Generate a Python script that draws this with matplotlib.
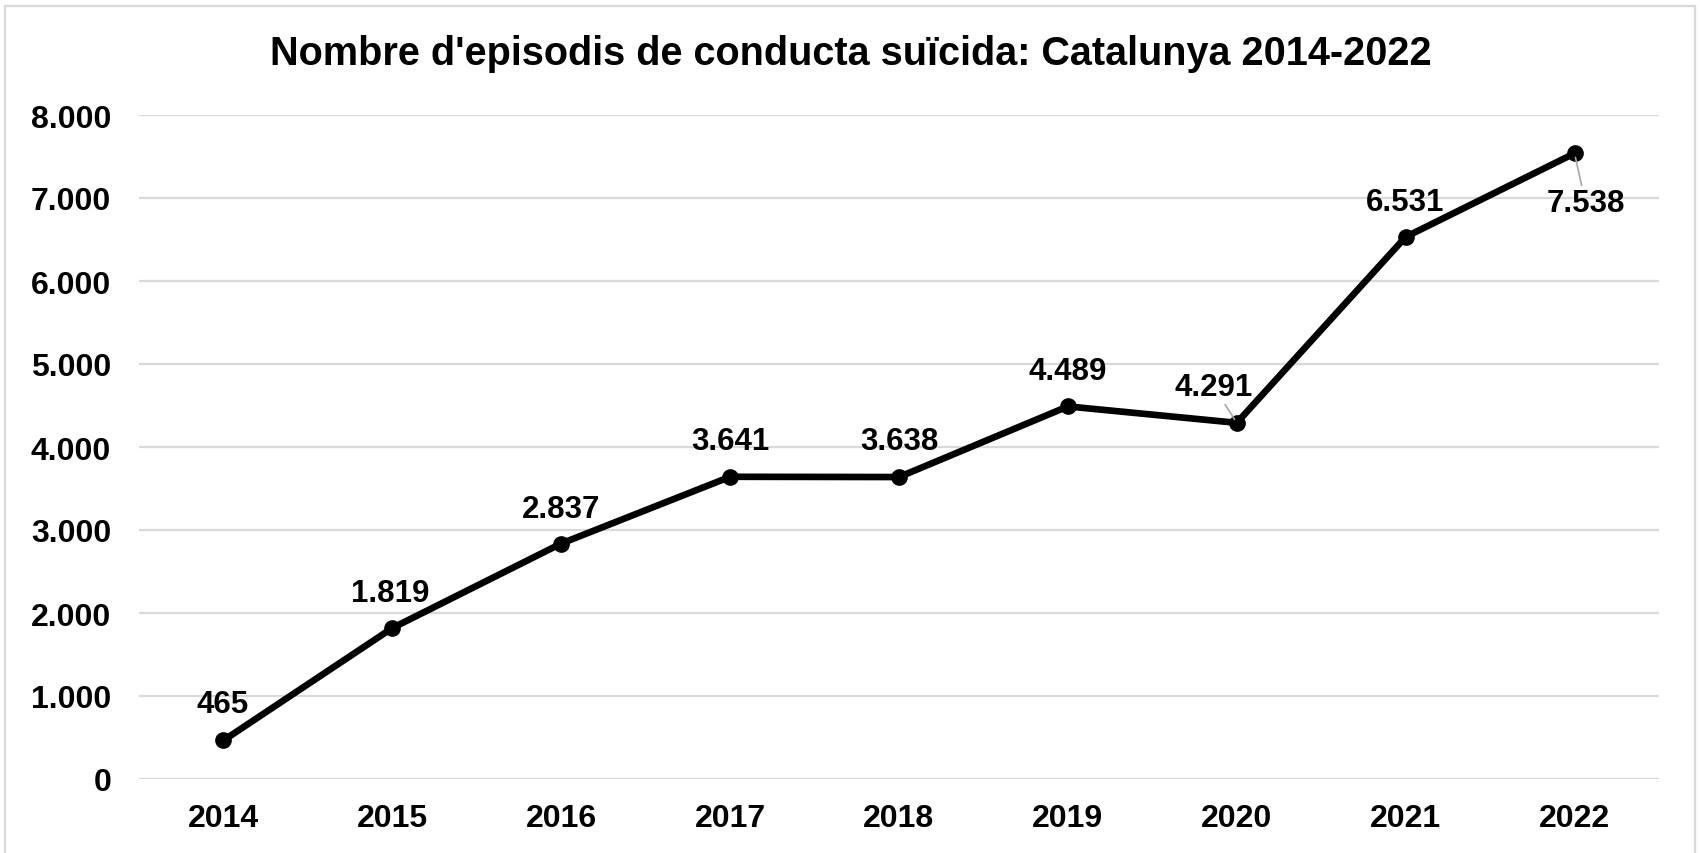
import matplotlib
matplotlib.use("Agg")
import matplotlib.pyplot as plt
from matplotlib.lines import Line2D
from matplotlib.ticker import FuncFormatter

plt.rcParams['font.family'] = ['Liberation Sans', 'DejaVu Sans']

years = ["2014", "2015", "2016", "2017", "2018", "2019", "2020", "2021", "2022"]
episodes = [465, 1819, 2837, 3641, 3638, 4489, 4291, 6531, 7538]
title = "Nombre d'episodis de conducta suïcida: Catalunya 2014-2022"

W, H = 1700, 854
fig = plt.figure(figsize=(W / 100, H / 100), dpi=100)
ax = fig.add_axes([139 / W, 1 - 780 / H, (1659 - 139) / W, (780 - 116) / H])

x = list(range(len(years)))
ax.plot(x, episodes, color='black', lw=4.8, marker='o', markersize=11,
        solid_capstyle='round', zorder=3)

ax.set_xlim(-0.5, len(years) - 0.5)
ax.set_ylim(0, 8000)
ax.set_yticks(range(0, 8001, 1000))
ax.yaxis.set_major_formatter(FuncFormatter(lambda v, p: f"{v:,.0f}".replace(",", ".")))
ax.set_xticks(x)
ax.set_xticklabels(years)
ax.grid(axis='y', color='#d9d9d9', lw=1.6, zorder=0)
ax.set_axisbelow(True)
for s in ax.spines.values():
    s.set_visible(False)
ax.tick_params(axis='both', length=0, labelsize=23, labelcolor='black')
ax.tick_params(axis='y', pad=20)
ax.tick_params(axis='x', pad=17)
for lab in ax.get_xticklabels() + ax.get_yticklabels():
    lab.set_fontweight('bold')

# label offsets in pixels (dx, dy)
offsets = [(-1, 36), (-2, 35), (0, 35), (0, 36), (0, 36), (0, 35), (-23, 36), (-1, 35), (11, -50)]
leaders = [False, False, False, False, False, False, True, False, True]
for xi, v, (dx, dy), ld in zip(x, episodes, offsets, leaders):
    txt = f"{v:,}".replace(",", ".")
    kw = {}
    if ld:
        kw['arrowprops'] = dict(arrowstyle='-', color='#a6a6a6', lw=1.2,
                                shrinkA=0, shrinkB=3)
    ax.annotate(txt, (xi, v), xytext=(dx, dy), textcoords='offset pixels',
                ha='center', va='center', fontsize=22.5, fontweight='bold',
                color='black', zorder=4, **kw)

fig.text(851 / W, 1 - 54 / H, title, ha='center', va='center',
         fontsize=28.5, fontweight='bold', color='black')

# outer frame
c = '#d9d9d9'
fig.add_artist(Line2D([5 / W, 5 / W], [0, 1 - 7 / H], color=c, lw=1.6, transform=fig.transFigure))
fig.add_artist(Line2D([5 / W, 1695 / W], [1 - 7 / H, 1 - 7 / H], color=c, lw=1.6, transform=fig.transFigure))
fig.add_artist(Line2D([1695 / W, 1695 / W], [0, 1 - 7 / H], color=c, lw=1.6, transform=fig.transFigure))

fig.savefig("out.png", dpi=100, facecolor='white')
